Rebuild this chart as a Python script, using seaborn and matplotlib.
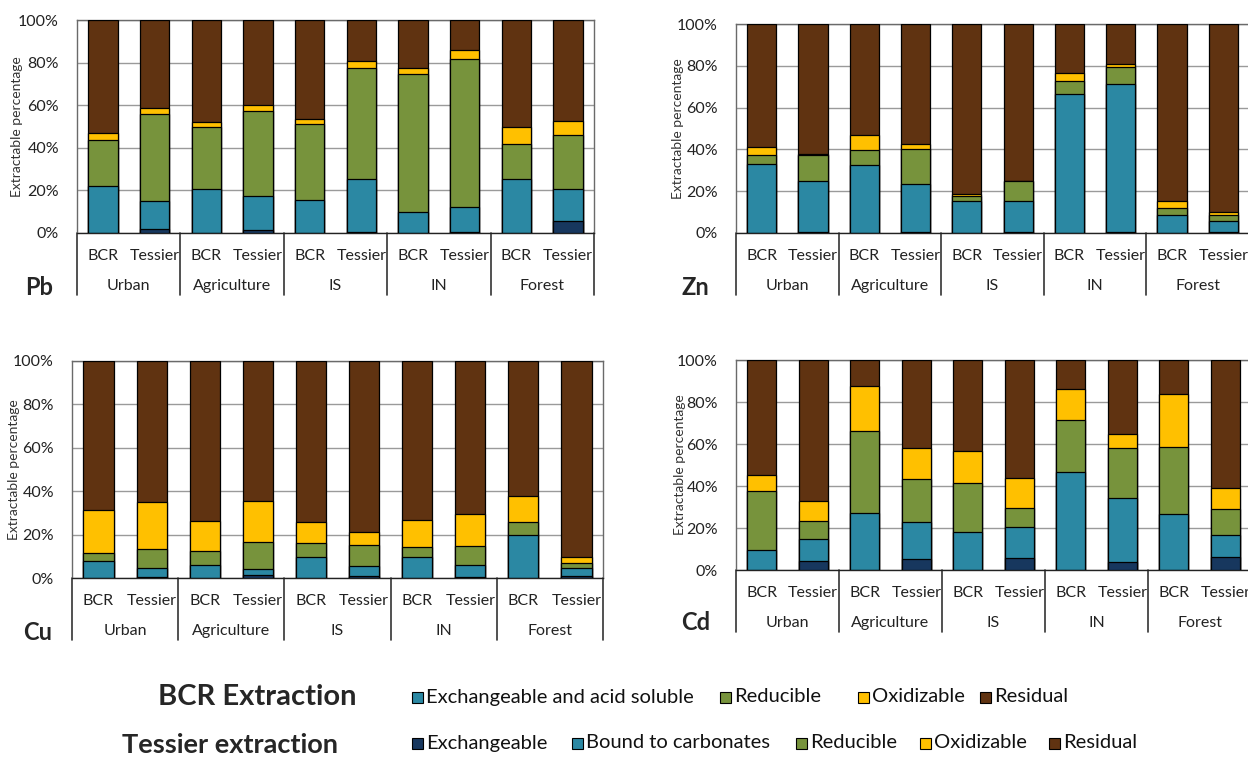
import numpy as np
import pandas as pd
import seaborn as sns
import matplotlib.pyplot as plt
from matplotlib import transforms
from matplotlib.patches import Rectangle

sns.set_style('white')
plt.rcParams['font.family'] = ['Lato', 'DejaVu Sans']

groups = ['Urban', 'Agriculture', 'IS', 'IN', 'Forest']
methods = ['BCR', 'Tessier']
bar_ids = [g + ' ' + m for g in groups for m in methods]
colors = ['#17375e', '#2b88a3', '#77933c', '#ffc000', '#603311']

# fractions in %, bars ordered Urban BCR, Urban Tessier, Agriculture BCR, ...
# rows: exchangeable (Tessier only), acid soluble / carbonates, reducible, oxidizable
# residual is whatever is left to 100 %
pb_exch = [0, 2.0, 0, 1.2, 0, 0.3, 0, 0.3, 0, 5.5]
pb_carb = [22.3, 12.9, 20.7, 16.0, 15.4, 25.1, 9.7, 11.9, 25.4, 15.2]
pb_red = [21.3, 41.1, 29.1, 40.0, 35.6, 52.2, 64.8, 69.3, 16.4, 25.5]
pb_oxi = [3.4, 2.8, 2.2, 3.0, 2.6, 3.3, 3.1, 4.2, 8.2, 6.5]

zn_exch = [0, 0.3, 0, 0.3, 0, 0.3, 0, 0.3, 0, 0.3]
zn_carb = [33.1, 24.4, 32.3, 23.3, 15.3, 15.1, 66.6, 70.9, 8.8, 5.3]
zn_red = [4.3, 12.7, 7.5, 16.4, 2.2, 9.3, 6.2, 8.4, 3.1, 3.2]
zn_oxi = [3.8, 0.5, 7.0, 2.4, 1.1, 0.3, 3.6, 1.3, 3.5, 1.1]

cu_exch = [0, 0.5, 0, 1.5, 0, 0.8, 0, 0.5, 0, 1.0]
cu_carb = [8.0, 4.1, 6.1, 2.8, 9.5, 4.6, 9.5, 5.6, 19.9, 3.6]
cu_red = [3.5, 8.9, 6.2, 12.5, 6.6, 9.9, 5.0, 8.8, 6.1, 2.3]
cu_oxi = [19.9, 21.7, 14.0, 18.7, 9.5, 6.1, 12.0, 14.5, 12.0, 2.7]

cd_exch = [0, 4.3, 0, 5.1, 0, 5.6, 0, 4.0, 0, 6.2]
cd_carb = [9.5, 10.3, 27.0, 17.6, 18.3, 15.0, 46.8, 30.1, 26.5, 10.5]
cd_red = [28.1, 8.9, 39.2, 20.5, 23.0, 9.1, 24.6, 23.8, 31.9, 12.2]
cd_oxi = [7.6, 9.5, 21.4, 15.1, 15.4, 14.0, 14.8, 6.7, 25.4, 10.0]

W, H = 1248, 757
fig = plt.figure(figsize=(W / 100, H / 100), dpi=100)


def panel(name, rows, left, right, top, bottom, label_xy, ylab_x):
    ax = fig.add_axes([left / W, 1 - bottom / H, (right - left) / W, (bottom - top) / H])
    vals = np.array(rows)
    full = np.vstack([vals, 100 - vals.sum(axis=0)])
    tops = full.cumsum(axis=0)
    df = pd.DataFrame({'bar': np.tile(bar_ids, 5),
                       'layer': np.repeat(range(5), 10),
                       'top': tops.ravel()})
    # draw tallest layer first, smaller cumulative layers on top
    for k in range(4, -1, -1):
        sns.barplot(data=df[df['layer'] == k], x='bar', y='top', order=bar_ids,
                    color=colors[k], saturation=1, edgecolor='black',
                    linewidth=0.9, width=0.57, errorbar=None, ax=ax, zorder=3)
    ax.set_xlim(-0.5, 9.5)
    ax.set_ylim(0, 100)
    ax.set_yticks(range(0, 101, 20))
    ax.set_yticklabels([f'{v}%' for v in range(0, 101, 20)])
    ax.yaxis.grid(True, color='#9a9a9a', lw=1)
    ax.set_axisbelow(True)
    ax.set_xticks(range(10))
    ax.set_xticklabels(methods * 5)
    ax.tick_params(axis='x', length=0, pad=11.5, labelsize=11.5, labelcolor='#222')
    ax.tick_params(axis='y', length=0, pad=13, labelsize=11.5, labelcolor='#222')
    ax.set_xlabel('')
    ax.set_ylabel('Extractable percentage', fontsize=10, color='#333')
    ax.yaxis.set_label_coords((ylab_x - left) / (right - left), 0.5)
    for s in ax.spines.values():
        s.set_color('#6a6a6a')
        s.set_linewidth(1)
    ax.spines['bottom'].set_color('#222')

    h = bottom - top
    trans = transforms.blended_transform_factory(ax.transData, ax.transAxes)
    for xs in [-0.5, 1.5, 3.5, 5.5, 7.5, 9.5]:
        ax.plot([xs, xs], [0, -62 / h], transform=trans, color='#333',
                lw=1.2, clip_on=False)
    for i, g in enumerate(groups):
        ax.text(2 * i + 0.5, -53 / h, g, transform=trans, ha='center',
                va='center', fontsize=11.5, color='#222')
    fig.text(label_xy[0] / W, 1 - label_xy[1] / H, name, fontsize=17,
             fontweight='bold', ha='center', va='center')
    return ax


panel('Pb', [pb_exch, pb_carb, pb_red, pb_oxi], 77, 594, 20, 233, (39, 287), 23)
panel('Zn', [zn_exch, zn_carb, zn_red, zn_oxi], 736, 1249, 24, 233, (695, 287), 684)
panel('Cu', [cu_exch, cu_carb, cu_red, cu_oxi], 72, 603, 361, 578, (38, 632), 20)
panel('Cd', [cd_exch, cd_carb, cd_red, cd_oxi], 736, 1251, 360, 570, (696, 623), 686)

# legend rows
bcr_names = ['Exchangeable and acid soluble', 'Reducible', 'Oxidizable', 'Residual']
tes_names = ['Exchangeable', 'Bound to carbonates', 'Reducible', 'Oxidizable', 'Residual']
bcr_x = [412, 720, 858, 980]
tes_x = [412, 572, 796, 920, 1049]

fig.text(257 / W, 1 - 697 / H, 'BCR Extraction', fontsize=21, fontweight='bold',
         ha='center', va='center')
fig.text(230 / W, 1 - 745 / H, 'Tessier extraction', fontsize=19.5, fontweight='bold',
         ha='center', va='center')


def legend_row(names, cols, xs, y):
    for name, c, x in zip(names, cols, xs):
        fig.patches.append(Rectangle((x / W, 1 - (y + 5.5) / H), 11 / W, 11 / H,
                                     transform=fig.transFigure, facecolor=c,
                                     edgecolor='black', lw=0.8))
        fig.text((x + 14) / W, 1 - y / H, name, fontsize=14.5, ha='left',
                 va='center', color='#111')


legend_row(bcr_names, colors[1:], bcr_x, 697)
legend_row(tes_names, colors, tes_x, 743)

plt.savefig('out.png', dpi=100)
